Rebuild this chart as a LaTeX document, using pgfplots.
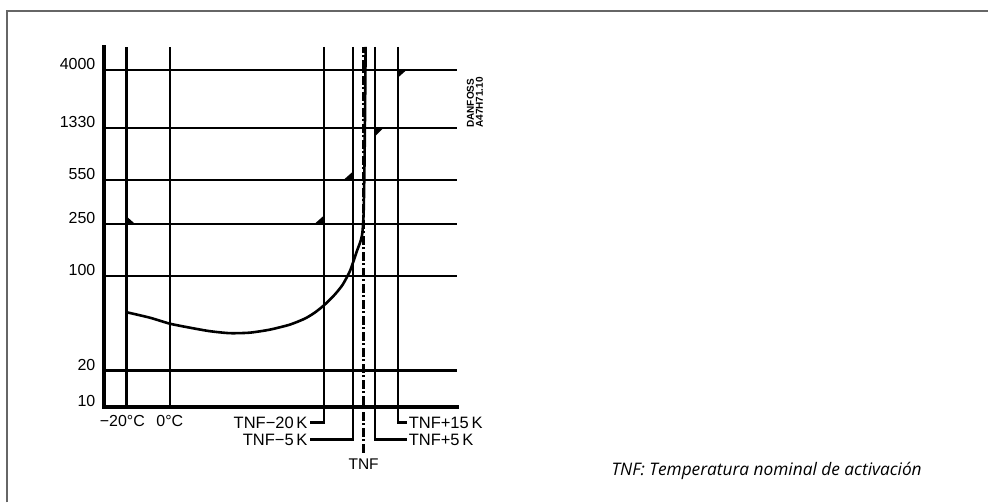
\documentclass[border=0pt]{standalone}
\usepackage{fontspec}
\setmainfont{Liberation Sans}
\newfontfamily\capfont{Open Sans}
\usepackage{pgfplots}
\pgfplotsset{compat=1.18}
\begin{document}
\begin{tikzpicture}
\begin{axis}[
  x=1pt, y=1pt,
  xmin=104, xmax=457, ymin=96, ymax=456,
  enlargelimits=false,
  axis x line*=bottom, axis y line*=left,
  axis line style={line width=4pt, line cap=rect},
  ytick={96,132,227,279,323,375,433},
  yticklabels={10,20,100,250,550,1330,4000},
  ymajorgrids, major grid style={black, line width=2.4pt},
  major tick length=0pt,
  xtick={170}, xticklabels={0°C},
  extra x ticks={126.5}, extra x tick labels={−20°C},
  extra x tick style={xticklabel style={xshift=-4pt}},
  tick label style={font=\fontsize{16}{18}\selectfont},
  xticklabel style={yshift=-5pt},
  yticklabel style={yshift=5.5pt, xshift=-5pt},
  clip=false,
]
% frame
\draw[black!60, line width=2.5pt] (axis cs:7,0) -- (axis cs:7,492);
\draw[black!60, line width=2pt] (axis cs:6,492) -- (axis cs:989,492);
\path (axis cs:0,0) rectangle (axis cs:989,503);
% vertical lines
\addplot[line width=2.3pt] coordinates {(126.5,96) (126.5,456)};
\addplot[line width=2.3pt] coordinates {(170,96) (170,456)};
\addplot[line width=2.3pt] coordinates {(324.3,456) (324.3,80) (310,80)};
\addplot[line width=2.3pt] coordinates {(353.5,456) (353.5,63) (310,63)};
\addplot[line width=2.3pt] coordinates {(375.5,456) (375.5,63) (407,63)};
\addplot[line width=2.3pt] coordinates {(398.3,456) (398.3,80) (407,80)};
\addplot[line width=2.5pt, dash pattern=on 9pt off 2.5pt on 2pt off 2.5pt] coordinates {(364,50) (364,456)};
% curve
\addplot[line width=2.6pt, smooth, tension=0.4] coordinates {
 (126.5,190.5) (150,185) (170,179) (190,175) (210,171.5) (230,169.5) (250,170)
 (270,173) (290,178) (305,184) (315,190) (325,198) (335,208) (343,218)
 (350,231) (354,242) (357,251) (360,259) (362.5,268) (364,290) (365,350) (366,456)};
% corner flags
\addplot[fill=black, draw=none] coordinates {(126,287) (126,279) (135,279)} -- cycle;
\addplot[fill=black, draw=none] coordinates {(324,287) (324,279) (315,279)} -- cycle;
\addplot[fill=black, draw=none] coordinates {(353,331) (353,323) (344,323)} -- cycle;
\addplot[fill=black, draw=none] coordinates {(375,375) (375,366) (384,375)} -- cycle;
\addplot[fill=black, draw=none] coordinates {(398,433) (398,425) (407,433)} -- cycle;
% labels
\begin{scope}[every node/.style={font=\fontsize{16.5}{18}\selectfont, inner sep=1pt}]
\node[anchor=east] at (axis cs:309,80) {TNF−20\,K};
\node[anchor=east] at (axis cs:309,63) {TNF−5\,K};
\node[anchor=west] at (axis cs:408,63) {TNF+5\,K};
\node[anchor=west] at (axis cs:408,80) {TNF+15\,K};
\end{scope}
\node[anchor=center, inner sep=1pt, font=\fontsize{15.5}{18}\selectfont] at (axis cs:364,38) {TNF};
\node[rotate=90, anchor=west, align=left, inner sep=0pt, font=\fontsize{10}{9}\selectfont\bfseries] at (axis cs:475.5,375) {DANFOSS\\A47H71.10};
\node[anchor=base west, inner sep=0pt, font=\capfont\itshape\fontsize{17.3}{20}\selectfont] at (axis cs:612,27) {TNF: Temperatura nominal de activación};
\end{axis}
\end{tikzpicture}
\end{document}
